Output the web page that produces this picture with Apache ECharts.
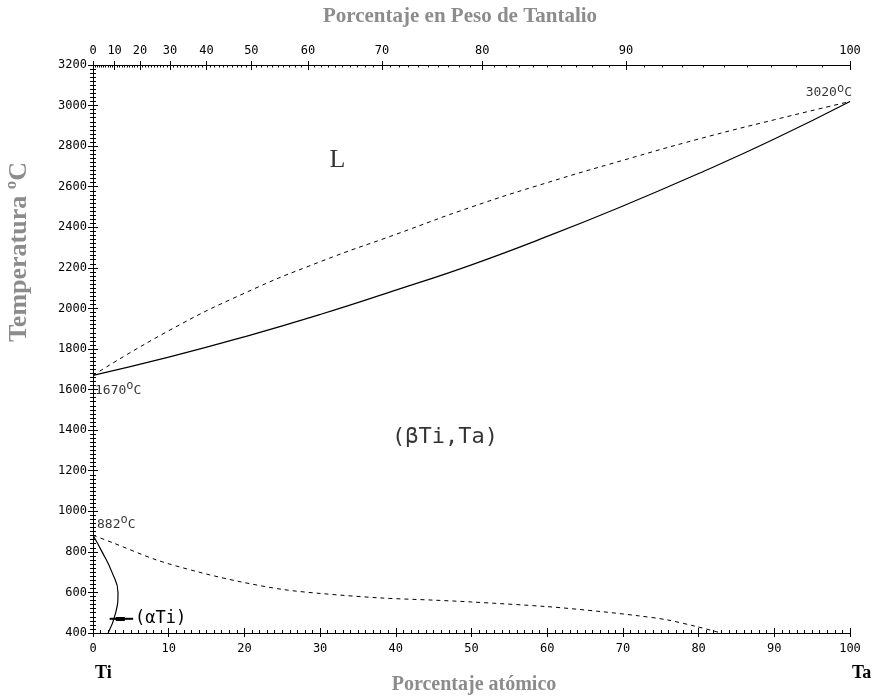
<!DOCTYPE html>
<html>
<head>
<meta charset="utf-8">
<script src="https://cdn.jsdelivr.net/npm/echarts@6/dist/echarts.min.js"></script>
<style>
  html, body { margin: 0; padding: 0; background: #fff; }
  #chart { width: 874px; height: 698px; }
</style>
</head>
<body>
<div id="chart"></div>
<script>
  // at% Ta vs temperature
  const liquidus = [[0, 1670], [10, 1890], [20, 2075], [30, 2230], [40, 2365], [50, 2500],
    [60, 2620], [70, 2730], [80, 2835], [90, 2930], [100, 3020]]
  const solidus = [[0, 1670], [10, 1760], [20, 1860], [30, 1970], [40, 2090], [50, 2215],
    [60, 2355], [70, 2505], [80, 2665], [90, 2835], [100, 3020]]
  const alphaSolvus = [[0, 882], [1.2, 800], [2.5, 700], [3.3, 600], [3.0, 500], [2.0, 400]]
  const betaTransus = [[0, 882], [2.6, 845], [8.4, 760], [14, 700], [19.4, 653], [25, 615],
    [30, 595], [37.9, 573], [45, 562], [50, 553], [60, 530], [67, 506], [72, 485],
    [75.8, 465], [79.7, 432], [83, 400]]
  const alphaArrow = [[2.2, 470], [5.3, 470]]
  const wtTicks = [0, 10, 20, 30, 40, 50, 60, 70, 80, 90, 100]
  const wtMinor = Array.from({ length: 101 }, (_, i) => i)

  // weight % Ta -> atomic % Ta
  const M_TI = 47.867
  const M_TA = 180.948
  function wtToAt(w) {
    if (w <= 0) return 0
    if (w >= 100) return 100
    const nTa = w / M_TA
    const nTi = (100 - w) / M_TI
    return 100 * nTa / (nTa + nTi)
  }
  function atToWt(a) {
    const mTa = a * M_TA
    const mTi = (100 - a) * M_TI
    return 100 * mTa / (mTa + mTi)
  }

  const tickFont = { fontFamily: 'DejaVu Sans Mono', fontSize: 12, color: '#000' }
  const lineBlack = { color: '#000', width: 1 }

  const chart = echarts.init(document.getElementById('chart'))
  const gray = '#8c8c8c'

  const noSplit = { show: false }
  function xAx(pos, extra) {
    return Object.assign({
      type: 'value', position: pos, min: 0, max: 100, interval: 10,
      axisLine: { show: true, lineStyle: lineBlack },
      splitLine: noSplit
    }, extra)
  }
  function yAx(pos, extra) {
    return Object.assign({
      type: 'value', position: pos, min: 400, max: 3200, interval: 200,
      axisLine: { show: true, lineStyle: lineBlack },
      splitLine: noSplit
    }, extra)
  }

  const annotations = [
    { value: [32.3, 2730], text: 'L', big: true },
    { value: [46.5, 1365], text: '(\u03b2Ti,Ta)' }
  ]

  chart.setOption({
    animation: false,
    backgroundColor: '#fff',
    grid: { left: 93, right: 24, top: 65, bottom: 65 },
    xAxis: [
      xAx('bottom', {
        axisTick: { inside: true, length: 5, lineStyle: lineBlack },
        minorTick: { show: true, splitNumber: 10, length: 3, lineStyle: lineBlack },
        axisLabel: Object.assign({ margin: 10 }, tickFont)
      }),
      xAx('bottom', {
        axisTick: { inside: false, length: 4, lineStyle: lineBlack },
        axisLabel: { show: false }
      }),
      xAx('top', {
        axisTick: { inside: true, length: 5, lineStyle: lineBlack, customValues: wtTicks.map(wtToAt) },
        axisLabel: Object.assign({
          margin: 8,
          customValues: wtTicks.map(wtToAt),
          formatter: v => String(Math.round(atToWt(v)))
        }, tickFont)
      }),
      xAx('top', {
        axisTick: { inside: false, length: 4, lineStyle: lineBlack, customValues: wtTicks.map(wtToAt) },
        axisLabel: { show: false }
      }),
      xAx('top', {
        axisTick: { inside: true, length: 2.5, lineStyle: lineBlack, customValues: wtMinor.map(wtToAt) },
        axisLabel: { show: false }
      })
    ],
    yAxis: [
      yAx('left', {
        axisTick: { inside: true, length: 5, lineStyle: lineBlack },
        minorTick: { show: true, splitNumber: 10, length: 3, lineStyle: lineBlack },
        axisLabel: Object.assign({ margin: 6, formatter: v => String(v) }, tickFont)
      }),
      yAx('left', {
        axisTick: { inside: false, length: 5, lineStyle: lineBlack },
        axisLabel: { show: false }
      }),
      yAx('right', {
        axisTick: { inside: true, length: 5, lineStyle: lineBlack },
        minorTick: { show: true, splitNumber: 10, length: 3, lineStyle: lineBlack },
        axisLabel: { show: false }
      }),
      yAx('right', {
        axisTick: { inside: false, length: 5, lineStyle: lineBlack },
        axisLabel: { show: false }
      })
    ],
    series: [
      {
        name: 'liquidus', type: 'line', data: liquidus, smooth: true, symbol: 'none',
        lineStyle: { color: '#000', width: 1, type: [4, 4] }
      },
      {
        name: 'solidus', type: 'line', data: solidus, smooth: true, symbol: 'none',
        lineStyle: { color: '#000', width: 1.2 }
      },
      {
        name: 'alpha', type: 'line', data: alphaSolvus, smooth: 0.5, symbol: 'none',
        lineStyle: { color: '#000', width: 1.2 }
      },
      {
        name: 'beta', type: 'line', data: betaTransus, smooth: 0.3, symbol: 'none',
        lineStyle: { color: '#000', width: 1, type: [4, 4] }
      },
      {
        name: 'arrow', type: 'line', data: alphaArrow, symbol: 'none',
        lineStyle: { color: '#000', width: 2 },
        markLine: {
          silent: true, symbol: 'none',
          lineStyle: { color: '#000', width: 4, type: 'solid' },
          label: { show: false },
          data: [[{ coord: [3.0, 470] }, { coord: [4.2, 470] }]]
        },
        endLabel: {
          show: true, formatter: '(\u03b1Ti)', distance: 2,
          fontFamily: 'DejaVu Sans Mono', fontSize: 17, color: '#000'
        }
      },
      {
        name: 'notes', type: 'scatter', symbolSize: 0, silent: true,
        data: annotations.map(a => ({
          value: a.value,
          label: {
            show: true, position: 'inside', formatter: a.text, color: '#000',
            fontFamily: a.big ? 'Liberation Serif' : 'DejaVu Sans Mono',
            fontSize: a.big ? 26 : 22
          }
        }))
      },
      {
        name: 'temps', type: 'scatter', symbolSize: 0, silent: true,
        data: [
          { value: [0, 1670], label: { show: true, position: 'bottom', align: 'left', offset: [2, 0],
            formatter: '1670{s|o}C' } },
          { value: [0, 882], label: { show: true, position: 'top', align: 'left', offset: [4, 4],
            formatter: '882{s|o}C' } },
          { value: [100, 3020], label: { show: true, position: 'top', align: 'right', offset: [2, 6],
            formatter: '3020{s|o}C' } }
        ],
        label: {
          fontFamily: 'DejaVu Sans Mono', fontSize: 13, color: '#000',
          rich: { s: { fontFamily: 'DejaVu Sans Mono', fontSize: 12, verticalAlign: 'top', padding: [0, 0, 8, 0] } }
        }
      }
    ],
    graphic: [
      {
        type: 'text', x: 460, y: 6,
        style: { text: 'Porcentaje en Peso de Tantalio', fill: gray,
          font: 'bold 21px "Liberation Serif"', align: 'center' }
      },
      {
        type: 'text', x: 474, y: 675,
        style: { text: 'Porcentaje atómico', fill: gray, font: 'bold 20px "Liberation Serif"',
          align: 'center' }
      },
      {
        type: 'text', x: 19, y: 252, rotation: Math.PI / 2,
        style: { text: 'Temperatura ºC', fill: gray, font: 'bold 26px "Liberation Serif"',
          align: 'center', verticalAlign: 'middle' }
      },
      {
        type: 'text', x: 95, y: 664,
        style: { text: 'Ti', fill: '#000', font: 'bold 18px "Liberation Serif"' }
      },
      {
        type: 'text', x: 852, y: 664,
        style: { text: 'Ta', fill: '#000', font: 'bold 18px "Liberation Serif"' }
      }
    ]
  })
</script>
</body>
</html>
